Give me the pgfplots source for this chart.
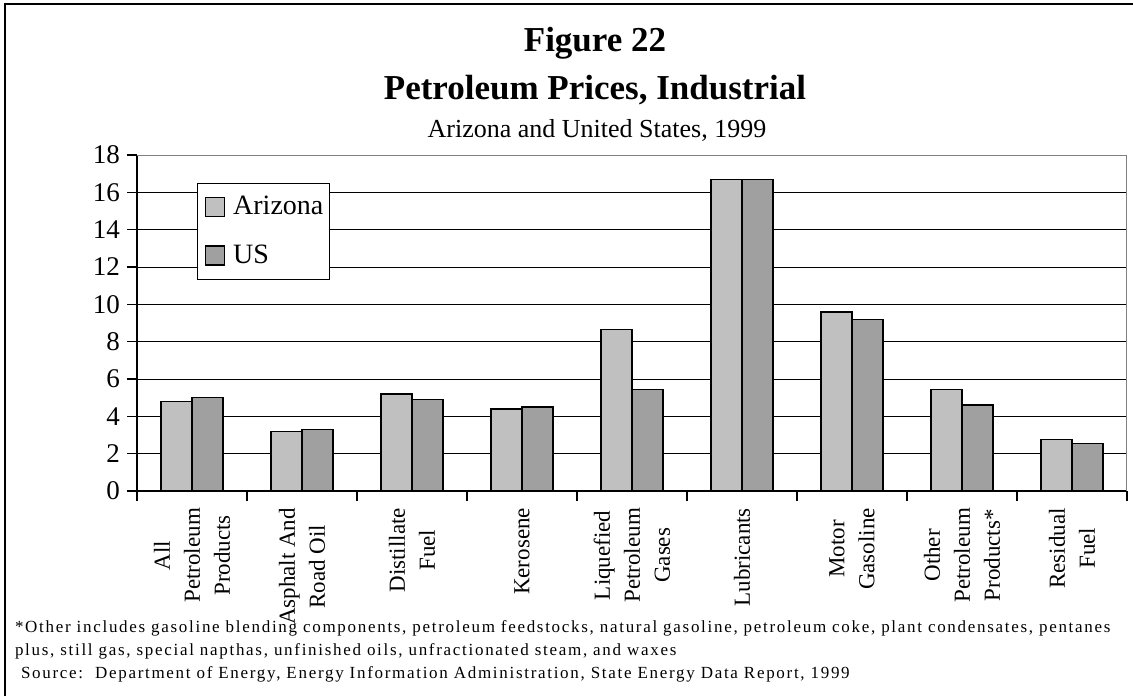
\documentclass[border=0pt]{standalone}
\usepackage{fontspec}
\setmainfont{Liberation Serif}
\newfontfamily\footfont[LetterSpace=10]{Liberation Serif}
\usepackage{pgfplots}
\pgfplotsset{compat=1.18}
\definecolor{azgray}{RGB}{192,192,192}
\definecolor{usgray}{RGB}{160,160,160}
\definecolor{framegray}{RGB}{128,128,128}
\begin{document}
\begin{tikzpicture}[x=0.5pt,y=0.5pt]
\path[use as bounding box] (0,0) rectangle (1133,696);
\draw[line width=1pt] (5,0) -- (5,692) -- (1133,692);
\node[anchor=base, font=\bfseries\fontsize{17.5}{20}\selectfont] at (595,644) {Figure 22};
\node[anchor=base, font=\bfseries\fontsize{17.5}{20}\selectfont] at (595,596) {Petroleum Prices, Industrial};
\node[anchor=base, font=\fontsize{13}{15}\selectfont] at (597,558) {Arizona and United States, 1999};
\begin{axis}[
  at={(68.5pt,102.5pt)}, anchor=south west,
  scale only axis, width=495pt, height=168pt,
  xmin=-0.5, xmax=8.5, ymin=0, ymax=18,
  axis lines*=left,
  axis line style={black, line width=0.7pt},
  ytick={0,2,...,18},
  xtick={-0.5,0.5,...,8.5}, xticklabels={},
  tick align=outside, major tick length=5pt,
  tick style={black, line width=0.6pt},
  ymajorgrids, grid style={black, line width=0.5pt},
  /pgf/number format/assume math mode=true,
  yticklabel style={font=\fontsize{13.5}{15}\selectfont},
  extra x ticks={0,1,2,3,4,5,6,7,8},
  extra x tick labels={{All\\Petroleum\\Products},{Asphalt And\\Road Oil},{Distillate\\Fuel},{Kerosene},{Liquefied\\Petroleum\\Gases},{Lubricants},{Motor\\Gasoline},{Other\\Petroleum\\Products*},{Residual\\Fuel}},
  extra x tick style={major tick length=0pt, grid=none, xticklabel shift=5pt,
    tick label style={rotate=90, anchor=east, align=center,
      font=\fontsize{11.5}{15}\selectfont}},
  legend style={at={(0.0603,0.9176)}, anchor=north west, draw=black, line width=0.5pt,
    font=\fontsize{14}{16}\selectfont, row sep=9.5pt, inner xsep=1pt, inner ysep=4.5pt,
    cells={anchor=west}},
  legend image code/.code={\draw[#1, line width=0.6pt] (3pt,-4.75pt) rectangle (12.5pt,4.75pt); \path[draw=none, fill=none] (0pt,0pt) -- (15pt,0pt);},
]
\addplot[ybar, bar width=15.5pt, bar shift=-7.75pt, fill=azgray, draw=black, line width=0.7pt]
  coordinates {(0,4.8) (1,3.2) (2,5.2) (3,4.4) (4,8.65) (5,16.7) (6,9.6) (7,5.45) (8,2.75)};
\addlegendentry{Arizona}
\addplot[ybar, bar width=15.5pt, bar shift=7.75pt, fill=usgray, draw=black, line width=0.7pt]
  coordinates {(0,5.0) (1,3.3) (2,4.9) (3,4.5) (4,5.45) (5,16.7) (6,9.2) (7,4.6) (8,2.55)};
\addlegendentry{US}
\draw[framegray, line width=1pt] (rel axis cs:0,1) -- (rel axis cs:1,1) -- (rel axis cs:1,0);
\end{axis}
\node[anchor=base west, font=\footfont\fontsize{8.5}{10}\selectfont] at (8,64) {*Other includes gasoline blending components, petroleum feedstocks, natural gasoline, petroleum coke, plant condensates, pentanes};
\node[anchor=base west, font=\footfont\fontsize{8.5}{10}\selectfont] at (8,41) {plus, still gas, special napthas, unfinished oils, unfractionated steam, and waxes};
\node[anchor=base west, font=\footfont\fontsize{8.5}{10}\selectfont] at (14,18) {Source:\ \ Department of Energy, Energy Information Administration, State Energy Data Report, 1999};
\end{tikzpicture}
\end{document}
